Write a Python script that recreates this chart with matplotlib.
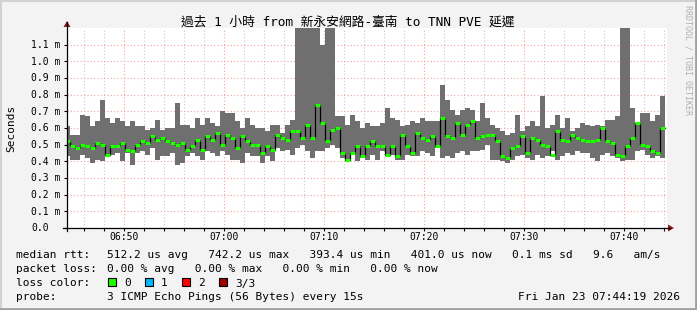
import numpy as np
import matplotlib.pyplot as plt
import matplotlib.transforms as mtransforms
from matplotlib.patches import Rectangle, Polygon
from matplotlib.lines import Line2D

# smokeping: 30 s bins, values in ms (hi > 1.2 is clipped at the top)
t_first = 44 + 6 / 60      # minutes after 06:00 of the first bin
step_min = 0.5
ping_hi = [.61, .56, .56, .68, .67, .61, .64, .77, .66, .63, .66, .64, .61, .64, .61, .61, .59, .60, .65, .59,
           .60, .60, .75, .62, .62, .60, .66, .62, .66, .63, .61, .70, .69, .69, .64, .60, .66, .62, .60, .60,
           .58, .62, .62, .57, .62, .65, 1.35, 1.35, 1.35, 1.35, 1.35, 1.10, 1.35, 1.35, .67, .67, .62, .68, .64, .60,
           .63, .61, .61, .63, .72, .66, .65, .61, .62, .64, .63, .66, .64, .64, .64, .86, .77, .71, .68, .71,
           .72, .71, .64, .75, .66, .62, .60, .58, .56, .57, .68, .58, .61, .64, .61, .79, .60, .62, .68, .60,
           .66, .58, .60, .63, .62, .61, .62, .61, .65, .65, .67, 1.35, 1.35, .72, .62, .69, .69, .64, .68, .79]
ping_lo = [.43, .41, .41, .44, .42, .39, .41, .40, .43, .44, .45, .40, .45, .38, .45, .46, .44, .48, .41, .43,
           .43, .45, .38, .39, .43, .45, .43, .41, .46, .45, .43, .46, .44, .41, .41, .39, .45, .43, .43, .39,
           .43, .40, .48, .46, .47, .44, .48, .50, .46, .42, .46, .46, .48, .50, .48, .42, .40, .44, .40, .42,
           .41, .44, .41, .46, .43, .44, .41, .41, .44, .43, .43, .46, .45, .43, .48, .42, .43, .42, .45, .46,
           .44, .46, .46, .47, .50, .41, .41, .40, .39, .41, .43, .44, .42, .41, .44, .42, .43, .46, .41, .43,
           .45, .44, .46, .45, .45, .42, .40, .44, .45, .43, .42, .40, .41, .41, .46, .47, .44, .42, .43, .42]
ping_med = [.52, .49, .48, .50, .49, .48, .51, .50, .44, .49, .49, .51, .47, .46, .50, .52, .51, .55, .53, .54,
            .52, .51, .50, .51, .47, .49, .53, .47, .55, .53, .57, .50, .56, .54, .48, .55, .52, .50, .50, .45,
            .49, .47, .56, .54, .53, .58, .58, .54, .62, .54, .74, .63, .52, .59, .60, .45, .41, .45, .49, .43,
            .49, .52, .49, .49, .44, .49, .43, .56, .49, .45, .57, .54, .53, .55, .49, .66, .55, .54, .63, .56,
            .62, .64, .54, .55, .56, .56, .52, .43, .42, .48, .49, .55, .45, .54, .53, .50, .49, .44, .58, .53,
            .52, .56, .54, .53, .52, .52, .53, .60, .52, .51, .44, .43, .49, .54, .63, .50, .49, .46, .45, .60]

y_ticks = [0.0, 0.1, 0.2, 0.3, 0.4, 0.5, 0.6, 0.7, 0.8, 0.9, 1.0, 1.1]
x_ticks = [50, 60, 70, 80, 90, 100]
x_labels = ['06:50', '07:00', '07:10', '07:20', '07:30', '07:40']
loss_names = ['0', '1', '2', '3/3']
loss_colors = ['#20ff00', '#00b8ff', '#ff0000', '#a00000']

W, H = 697, 310
mono = 'DejaVu Sans Mono'
cjk = ['DejaVu Sans Mono', 'Noto Sans CJK TC']

def fx(x):
    return x / W

def fy(y):
    return 1 - y / H

fig = plt.figure(figsize=(W / 100, H / 100), dpi=100, facecolor='#f3f3f3')
ax = fig.add_axes([fx(67), fy(228), 600 / W, 200 / H])
ax.set_facecolor('white')

t_end = 44 + 19 / 60
ax.set_xlim(t_end, t_end + 60)
ax.set_ylim(0, 1.2)

n = len(ping_med)
edges = t_first + step_min * np.arange(n + 1)
hi_e = np.append(ping_hi, ping_hi[-1])
lo_e = np.append(ping_lo, ping_lo[-1])
med_e = np.append(ping_med, ping_med[-1])

ax.fill_between(edges, lo_e, hi_e, step='post', color='#6f6f6f', lw=0, zorder=2)
ax.step(edges, med_e, where='post', color='black', lw=0.9, zorder=3)
ax.hlines(ping_med, edges[:-1], edges[1:], color=loss_colors[0], lw=2.2, zorder=4)

# grid
ax.set_xticks(x_ticks)
ax.set_xticks(np.arange(46, 105, 2), minor=True)
ax.set_yticks(y_ticks)
ax.grid(which='major', color='#f2a0a0', ls=(0, (1, 2)), lw=0.8, zorder=1)
ax.grid(which='minor', axis='x', color='#c8c8c8', ls=(0, (1, 2)), lw=0.8, zorder=1)
ax.set_axisbelow(True)
for s in ax.spines.values():
    s.set_visible(False)
ax.tick_params(axis='both', which='both', direction='out', length=2.5, width=0.8, color='black',
               labelleft=False, labelbottom=False)

# axes lines with arrows
fig.add_artist(Line2D([fx(67), fx(67)], [fy(231), fy(22)], color='black', lw=0.9))
fig.add_artist(Line2D([fx(63), fx(670)], [fy(228), fy(228)], color='black', lw=0.9))
fig.add_artist(Polygon([(fx(63.5), fy(27)), (fx(70.5), fy(27)), (fx(67), fy(21))], closed=True,
                       color='#8b1a1a', lw=0))
fig.add_artist(Polygon([(fx(668), fy(224.5)), (fx(668), fy(231.5)), (fx(674), fy(228))], closed=True,
                       color='#8b1a1a', lw=0))

# tick labels
tr = mtransforms.blended_transform_factory(fig.transFigure, ax.transData)
tr = mtransforms.offset_copy(tr, fig=fig, x=0, y=-3.3, units='dots')
for v in y_ticks:
    lab = '0.0' if v == 0 else '%.1f m' % v
    fig.text(fx(31), v, lab, transform=tr, ha='left', va='baseline', fontsize=7, family=mono)
trx = mtransforms.blended_transform_factory(ax.transData, fig.transFigure)
for t, lab in zip(x_ticks, x_labels):
    fig.text(t, fy(240.5), lab, transform=trx, ha='center', va='baseline', fontsize=7, family=mono)

# title and side texts
fig.text(fx(348), fy(26), '過去 1 小時 from 新永安網路-臺南 to TNN PVE 延遲', ha='center', va='baseline',
         fontsize=9.2, family=cjk)
fig.text(fx(11), fy(128), 'Seconds', rotation=90, ha='center', va='center', fontsize=8, family=mono)
fig.text(fx(688), fy(60), 'RRDTOOL / TOBI OETIKER', rotation=270, ha='center', va='center',
         fontsize=6, family=mono, color='#b0b0b0')

# legend area
fig.text(fx(16), fy(258.5), 'median rtt:', fontsize=8, family=mono, va='baseline')
fig.text(fx(107), fy(258.5), '512.2 us avg   742.2 us max   393.4 us min   401.0 us now   0.1 ms sd   9.6   am/s',
         fontsize=8, family=mono, va='baseline')
fig.text(fx(16), fy(272.5), 'packet loss:', fontsize=8, family=mono, va='baseline')
fig.text(fx(107), fy(272.5), '0.00 % avg   0.00 % max   0.00 % min   0.00 % now',
         fontsize=8, family=mono, va='baseline')
fig.text(fx(16), fy(286.5), 'loss color:', fontsize=8, family=mono, va='baseline')
box_x = [108, 145, 182, 219]
for bx, name, col in zip(box_x, loss_names, loss_colors):
    fig.add_artist(Rectangle((fx(bx), fy(286)), 8 / W, 8 / H, facecolor=col, edgecolor='black', lw=0.8))
    fig.text(fx(bx + 16), fy(286.5), name, fontsize=8, family=mono, va='baseline')
fig.text(fx(16), fy(300), 'probe:', fontsize=8, family=mono, va='baseline')
fig.text(fx(107), fy(300), '3 ICMP Echo Pings (56 Bytes) every 15s', fontsize=8, family=mono, va='baseline')
fig.text(fx(680), fy(300), 'Fri Jan 23 07:44:19 2026', fontsize=8, family=mono, va='baseline', ha='right')

# frame
fig.add_artist(Line2D([0, 1], [fy(1), fy(1)], color='#d2d2d2', lw=1.5))
fig.add_artist(Line2D([fx(1), fx(1)], [0, 1], color='#d2d2d2', lw=1.5))
fig.add_artist(Line2D([0, 1], [fy(308.5), fy(308.5)], color='#a0a0a0', lw=2))
fig.add_artist(Line2D([fx(695.5), fx(695.5)], [0, 1], color='#a0a0a0', lw=2))

fig.savefig('out.png', dpi=100, facecolor=fig.get_facecolor())
